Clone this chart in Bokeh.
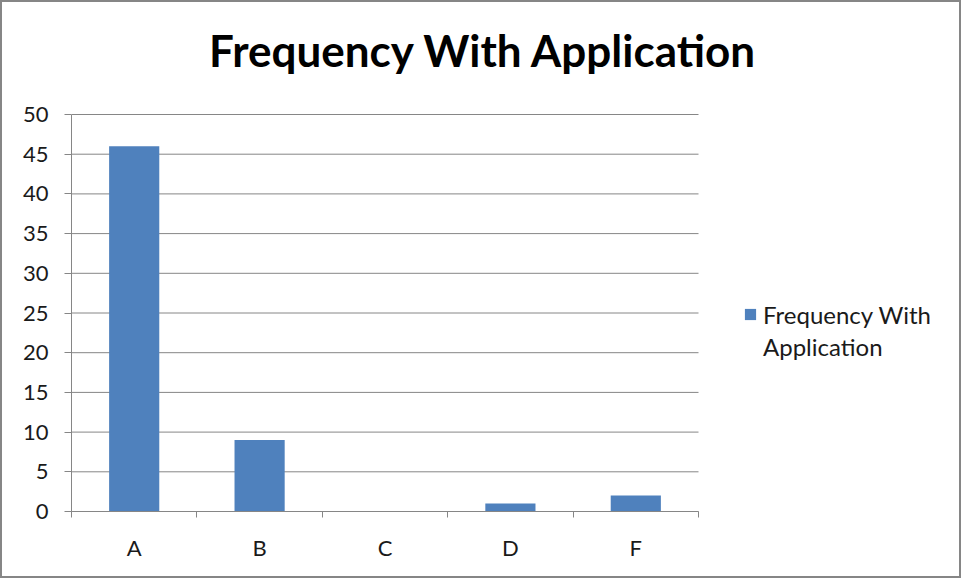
from bokeh.plotting import figure
from bokeh.layouts import column
from bokeh.models import FixedTicker, Range1d, ColumnDataSource, Legend, LegendItem, Label
from bokeh.embed import file_html
from bokeh.resources import INLINE

categories = ["A", "B", "C", "D", "F"]
frequency = [46, 9, 0, 1, 2]
y_ticks = [0, 5, 10, 15, 20, 25, 30, 35, 40, 45, 50]
title_text = "Frequency With Application"
legend_lines = ["Frequency With", "Application"]

BAR = "#4F81BD"
GRAY = "#868686"
TXT = "#1a1a1a"
FONT = "Lato"

# layout (pixels, inside the 2px outer border)
W, H = 957, 574          # plus a 2px border on each side -> 961 x 578
LEFT, BOTTOM = 69, 65
PLOT_PX_W = 627          # pixel width of the category area
PLOT_PX_H = 397          # pixel height of the 0..50 value area
n = len(categories)
y_max = y_ticks[-1]
frame_w = W - LEFT
frame_h = H - BOTTOM
x_end = n * frame_w / PLOT_PX_W          # frame widened to hold the legend
y_end = y_max * frame_h / PLOT_PX_H      # frame heightened to hold the title

positions = [i + 0.5 for i in range(n)]
boundaries = list(range(n + 1))

p = figure(width=W, height=H, output_backend="svg", toolbar_location=None,
           x_range=Range1d(0, x_end), y_range=Range1d(0, y_end),
           min_border_left=LEFT, min_border_right=0, min_border_top=0, min_border_bottom=BOTTOM)
p.outline_line_color = None
p.background_fill_color = "white"
p.border_fill_color = "white"
p.xgrid.grid_line_color = None
p.ygrid.grid_line_color = None

# horizontal gridlines spanning only the category area
p.segment(x0=[0] * len(y_ticks), x1=[n] * len(y_ticks), y0=y_ticks, y1=y_ticks,
          line_color=GRAY, line_width=1)

src = ColumnDataSource(dict(x=positions, top=frequency, cat=categories))
bars = p.vbar(x="x", top="top", width=0.4, source=src, fill_color=BAR, line_color=None)
# invisible renderer that only carries the second legend line
blank = p.vbar(x=[], top=[], width=0.4, fill_alpha=0, line_alpha=0)

xa = p.xaxis[0]
xa.bounds = (0, n)
xa.ticker = FixedTicker(ticks=positions, minor_ticks=boundaries)
xa.major_label_overrides = {pos: c for pos, c in zip(positions, categories)}
xa.major_tick_line_color = None
xa.major_tick_out = 0
xa.major_tick_in = 0
xa.minor_tick_line_color = GRAY
xa.minor_tick_out = 6
xa.minor_tick_in = 0
xa.axis_line_color = GRAY
xa.major_label_text_font = FONT
xa.major_label_text_font_size = "22px"
xa.major_label_text_color = TXT
xa.major_label_standoff = 16

ya = p.yaxis[0]
ya.bounds = (y_ticks[0], y_max)
ya.ticker = FixedTicker(ticks=y_ticks)
ya.major_tick_line_color = GRAY
ya.major_tick_out = 7
ya.major_tick_in = 0
ya.minor_tick_line_color = None
ya.axis_line_color = GRAY
ya.major_label_text_font = FONT
ya.major_label_text_font_size = "22px"
ya.major_label_text_color = TXT
ya.major_label_standoff = 16

# title, centred over the chart box
px_x = n / PLOT_PX_W
px_y = y_max / PLOT_PX_H
p.add_layout(Label(x=(481 - LEFT) * px_x, y=(frame_h - 47) * px_y, text=title_text,
                   text_font=FONT, text_font_style="bold", text_font_size="44px",
                   text_color="black", text_align="center", text_baseline="alphabetic"))

# legend (inside the widened frame, right of the bars)
legend = Legend(items=[LegendItem(label=legend_lines[0], renderers=[bars]),
                       LegendItem(label=legend_lines[1], renderers=[blank])],
                location=(672, 149), margin=0, padding=0, spacing=0,
                glyph_width=14, glyph_height=14, label_height=32, label_standoff=6,
                label_text_font=FONT, label_text_font_size="24px", label_text_color=TXT,
                border_line_color=None, background_fill_alpha=0)
p.add_layout(legend, "center")

layout = column(p, styles={"border": "2px solid #868686"})

open("out.html", "w").write(file_html(layout, INLINE))
